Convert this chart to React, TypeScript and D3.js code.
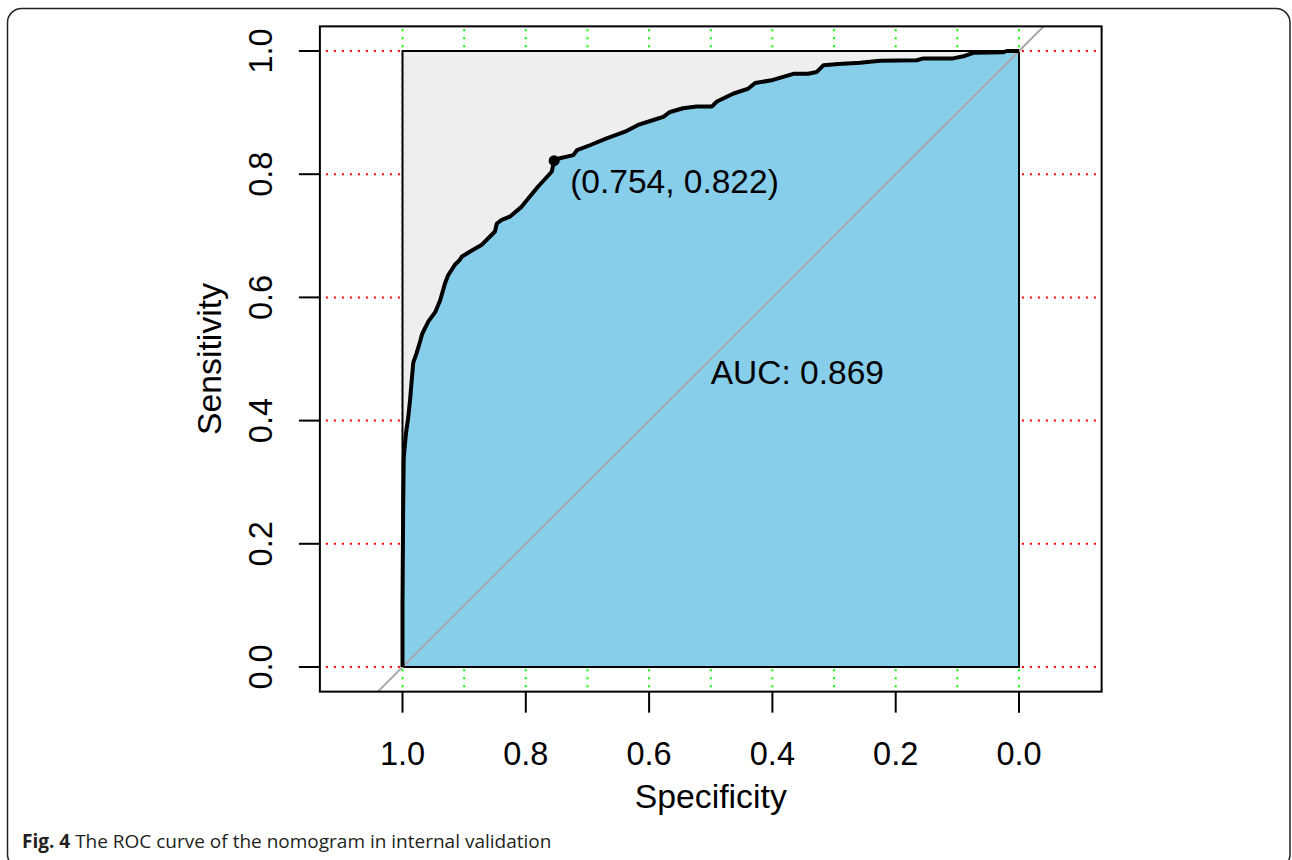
import React from "react";
import * as d3 from "d3";

const width = 1292;
const height = 860;

// ROC curve: specificity (x, reversed) and sensitivity (y)
const specificity = [
  1, 1, 0.999, 0.998, 0.9943, 0.9906, 0.9878, 0.985, 0.9825, 0.977, 0.971, 0.968,
  0.958, 0.947, 0.939, 0.931, 0.926, 0.915, 0.907, 0.904, 0.891, 0.872, 0.85, 0.847,
  0.839, 0.826, 0.807, 0.78, 0.758, 0.754, 0.7445, 0.723, 0.717, 0.696, 0.669, 0.639,
  0.618, 0.593, 0.577, 0.566, 0.545, 0.523, 0.498, 0.49, 0.463, 0.439, 0.428, 0.399,
  0.366, 0.342, 0.328, 0.317, 0.293, 0.258, 0.225, 0.166, 0.155, 0.107, 0.088, 0.074,
  0.025, 0.02, 0,
];
const sensitivity = [
  0, 0.1, 0.25, 0.34, 0.38, 0.406, 0.433, 0.466, 0.494, 0.51, 0.53, 0.541,
  0.561, 0.576, 0.595, 0.623, 0.636, 0.653, 0.661, 0.666, 0.674, 0.685, 0.707, 0.72,
  0.726, 0.731, 0.747, 0.78, 0.804, 0.822, 0.826, 0.831, 0.839, 0.847, 0.858, 0.869,
  0.88, 0.888, 0.893, 0.901, 0.907, 0.91, 0.91, 0.918, 0.931, 0.939, 0.948, 0.953,
  0.963, 0.963, 0.966, 0.977, 0.979, 0.981, 0.984, 0.985, 0.988, 0.988, 0.992, 0.997,
  0.998, 1, 1,
];

const ticks = [0, 0.2, 0.4, 0.6, 0.8, 1.0];
const xGrid = [0, 0.1, 0.2, 0.3, 0.4, 0.5, 0.6, 0.7, 0.8, 0.9, 1.0];
const yGrid = [0, 0.2, 0.4, 0.6, 0.8, 1.0];
const threshold = { spec: 0.754, sens: 0.822 };
const aucLabel = "AUC: 0.869";
const caption = "The ROC curve of the nomogram in internal validation";

const font = "'Liberation Sans', Arial, sans-serif";

export default function App() {
  const x = d3.scaleLinear().domain([1, 0]).range([402.5, 1019]);
  const y = d3.scaleLinear().domain([0, 1]).range([667, 51]);

  const box = {
    x0: x(1.134),
    x1: x(-0.134),
    y0: y(1.04),
    y1: y(-0.04),
  };

  const pts: [number, number][] = specificity.map((s, i) => [s, sensitivity[i]]);
  const line = d3
    .line<[number, number]>()
    .x(d => x(d[0]))
    .y(d => y(d[1]));
  const polyPts: [number, number][] = [...pts, [0, 0], [1, 0]];

  return (
    <svg
      width={width}
      height={height}
      style={{ position: "absolute", left: 0, top: 0, background: "#fff" }}
    >
      <rect x={7.5} y={8.5} width={1282.5} height={860} rx={14} fill="#fff" stroke="#222" strokeWidth={1.5} />
      <defs>
        <clipPath id="box">
          <rect x={box.x0} y={box.y0} width={box.x1 - box.x0} height={box.y1 - box.y0} />
        </clipPath>
      </defs>

      <g clipPath="url(#box)">
        {/* grid */}
        {xGrid.map(v => (
          <line
            key={"gx" + v}
            x1={x(v)}
            x2={x(v)}
            y1={box.y0}
            y2={box.y1}
            stroke="#00ff00"
            strokeWidth={2}
            strokeDasharray="2,6"
            strokeDashoffset={-3}
          />
        ))}
        {yGrid.map(v => (
          <line
            key={"gy" + v}
            x1={box.x0}
            x2={box.x1}
            y1={y(v)}
            y2={y(v)}
            stroke="#ff0000"
            strokeWidth={2}
            strokeDasharray="2,6"
            strokeDashoffset={-6}
          />
        ))}

        {/* max auc polygon */}
        <rect
          x={x(1)}
          y={y(1)}
          width={x(0) - x(1)}
          height={y(0) - y(1)}
          fill="#eeeeee"
          stroke="#000"
          strokeWidth={2}
        />
        {/* auc polygon */}
        <path d={line(polyPts) + "Z"} fill="#87ceeb" stroke="#000" strokeWidth={2} />

        {/* identity line */}
        <line
          x1={x(1.2)}
          y1={y(-0.2)}
          x2={x(-0.2)}
          y2={y(1.2)}
          stroke="#a9a9a9"
          strokeWidth={2}
        />

        {/* curve */}
        <path d={line(pts) ?? ""} fill="none" stroke="#000" strokeWidth={4} strokeLinejoin="round" />
        <circle cx={x(threshold.spec)} cy={y(threshold.sens)} r={5.5} fill="#000" />
      </g>

      <text
        x={x(threshold.spec) + 16}
        y={y(threshold.sens) + 32}
        fontFamily={font}
        fontSize={33.5}
        fill="#000"
      >
        ({threshold.spec.toFixed(3)}, {threshold.sens.toFixed(3)})
      </text>
      <text x={x(0.5)} y={y(0.5) + 25} fontFamily={font} fontSize={33.5} fill="#000">
        {aucLabel}
      </text>

      {/* frame */}
      <rect
        x={box.x0}
        y={box.y0}
        width={box.x1 - box.x0}
        height={box.y1 - box.y0}
        fill="none"
        stroke="#000"
        strokeWidth={2}
      />

      {/* x axis */}
      {ticks.map(v => (
        <g key={"xt" + v}>
          <line x1={x(v)} x2={x(v)} y1={box.y1} y2={box.y1 + 21} stroke="#000" strokeWidth={2} />
          <text x={x(v)} y={765} textAnchor="middle" fontFamily={font} fontSize={32.5} fill="#000">
            {v.toFixed(1)}
          </text>
        </g>
      ))}
      <text x={(box.x0 + box.x1) / 2} y={808} textAnchor="middle" fontFamily={font} fontSize={33.8} fill="#000">
        Specificity
      </text>

      {/* y axis */}
      {ticks.map(v => (
        <g key={"yt" + v}>
          <line x1={box.x0 - 21} x2={box.x0} y1={y(v)} y2={y(v)} stroke="#000" strokeWidth={2} />
          <text
            transform={`translate(272,${y(v)}) rotate(-90)`}
            textAnchor="middle"
            fontFamily={font}
            fontSize={32.5}
            fill="#000"
          >
            {v.toFixed(1)}
          </text>
        </g>
      ))}
      <text
        transform={`translate(221,${(box.y0 + box.y1) / 2}) rotate(-90)`}
        textAnchor="middle"
        fontFamily={font}
        fontSize={33.8}
        fill="#000"
      >
        Sensitivity
      </text>

      {/* caption */}
      <text x={22} y={848} fontFamily="'Open Sans', sans-serif" fontSize={19} fill="#231f20">
        <tspan fontWeight="bold">Fig. 4</tspan> {caption}
      </text>
    </svg>
  );
}
